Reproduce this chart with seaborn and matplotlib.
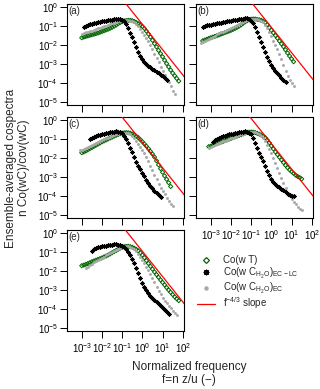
import matplotlib
matplotlib.use("Agg")
import matplotlib.pyplot as plt
import seaborn as sns
import numpy as np
from matplotlib.lines import Line2D
from matplotlib.ticker import LogFormatterSciNotation, NullLocator

sns.set_style("ticks")
plt.rcParams['font.family'] = ['Liberation Sans', 'DejaVu Sans']
plt.rcParams['mathtext.fontset'] = 'custom'
plt.rcParams['mathtext.rm'] = 'Liberation Sans'
plt.rcParams['mathtext.it'] = 'Liberation Sans:italic'
plt.rcParams['mathtext.bf'] = 'Liberation Sans:bold'
plt.rcParams['mathtext.default'] = 'regular'
plt.rcParams['axes.edgecolor'] = 'black'

# ---------------------------------------------------------
# data (log10 of normalized frequency / cospectrum)
# ---------------------------------------------------------
log_f = [-3.5, -3.4, -3.3, -3.2, -3.1, -3.0, -2.9, -2.8, -2.7, -2.6,
         -2.5, -2.4, -2.3, -2.2, -2.1, -2.0, -1.9, -1.8, -1.7, -1.6,
         -1.5, -1.4, -1.3, -1.2, -1.1, -1.0, -0.9, -0.8, -0.7, -0.6,
         -0.5, -0.4, -0.3, -0.2, -0.1, 0.0, 0.1, 0.2, 0.3, 0.4,
         0.5, 0.6, 0.7, 0.8, 0.9, 1.0, 1.1, 1.2, 1.3, 1.4,
         1.5, 1.6, 1.7, 1.8, 1.9]

# (a)
a_T_from, a_EC_from, a_LC_from = -3.0, -3.0, -2.9
a_T = [-1.62, -1.58, -1.55, -1.52, -1.49, -1.46, -1.43, -1.40, -1.37, -1.33,
       -1.29, -1.25, -1.21, -1.17, -1.12, -1.07, -1.01, -0.95, -0.88, -0.82,
       -0.77, -0.73, -0.71, -0.70, -0.70, -0.72, -0.76, -0.82, -0.88, -0.95,
       -1.02, -1.13, -1.27, -1.42, -1.58, -1.75, -1.93, -2.10, -2.28, -2.45,
       -2.62, -2.80, -2.98, -3.15, -3.32, -3.48, -3.62, -3.76, -3.90]
a_EC = [-1.40, -1.36, -1.33, -1.30, -1.27, -1.24, -1.20, -1.17, -1.13, -1.10,
        -1.06, -1.02, -0.98, -0.94, -0.90, -0.86, -0.82, -0.78, -0.74, -0.71,
        -0.69, -0.68, -0.68, -0.69, -0.71, -0.75, -0.81, -0.90, -1.02, -1.15,
        -1.30, -1.45, -1.62, -1.80, -2.00, -2.22, -2.45, -2.68, -2.92, -3.15,
        -3.38, -3.58, -3.78, -3.97, -4.18, -4.42, -4.60]
a_LC = [-1.05, -0.98, -0.93, -0.90, -0.88, -0.85, -0.82, -0.80, -0.78, -0.76,
        -0.74, -0.72, -0.70, -0.68, -0.66, -0.64, -0.62, -0.61, -0.62, -0.66,
        -0.75, -0.90, -1.10, -1.35, -1.60, -1.85, -2.10, -2.35, -2.58, -2.76,
        -2.90, -3.00, -3.08, -3.16, -3.24, -3.32, -3.40, -3.48, -3.56, -3.64,
        -3.72, -3.82]

# (b)
b_T_from, b_EC_from, b_LC_from = -3.4, -3.5, -3.4
b_T = [-1.78, -1.74, -1.70, -1.66, -1.62, -1.58, -1.55, -1.51, -1.47, -1.43,
       -1.39, -1.35, -1.31, -1.27, -1.23, -1.18, -1.13, -1.07, -1.01, -0.94,
       -0.86, -0.78, -0.72, -0.67, -0.64, -0.63, -0.63, -0.65, -0.67, -0.70,
       -0.74, -0.82, -0.92, -1.08, -1.22, -1.36, -1.50, -1.64, -1.79, -1.94,
       -2.09, -2.25, -2.42, -2.58, -2.73, -2.88]
b_EC = [-1.88, -1.84, -1.79, -1.74, -1.68, -1.62, -1.56, -1.50, -1.44, -1.39,
        -1.34, -1.29, -1.24, -1.19, -1.14, -1.09, -1.04, -0.99, -0.94, -0.89,
        -0.84, -0.79, -0.74, -0.69, -0.65, -0.62, -0.61, -0.61, -0.63, -0.66,
        -0.71, -0.80, -0.93, -1.10, -1.32, -1.55, -1.78, -2.00, -2.22, -2.48,
        -2.75, -3.05, -3.35, -3.62, -3.85, -4.02, -4.15]
b_LC = [-1.05, -1.00, -0.97, -0.94, -0.92, -0.90, -0.88, -0.86, -0.84, -0.82,
        -0.80, -0.78, -0.76, -0.74, -0.72, -0.70, -0.68, -0.66, -0.64, -0.62,
        -0.61, -0.60, -0.60, -0.63, -0.72, -0.84, -1.05, -1.32, -1.58, -1.85,
        -2.12, -2.38, -2.62, -2.84, -3.04, -3.22, -3.36, -3.48, -3.60, -3.72,
        -3.84, -3.93]

# (c)
c_T_from, c_EC_from, c_LC_from = -3.0, -3.1, -2.6
c_T = [-1.72, -1.68, -1.63, -1.57, -1.51, -1.45, -1.39, -1.33, -1.27, -1.21,
       -1.15, -1.10, -1.05, -1.00, -0.95, -0.90, -0.85, -0.80, -0.76, -0.72,
       -0.69, -0.67, -0.66, -0.67, -0.69, -0.73, -0.78, -0.85, -0.93, -1.03,
       -1.14, -1.26, -1.38, -1.51, -1.65, -1.79, -1.95, -2.15, -2.36, -2.56,
       -2.75, -2.94, -3.12, -3.30, -3.50]
c_EC = [-1.58, -1.56, -1.52, -1.47, -1.42, -1.37, -1.32, -1.27, -1.22, -1.17,
        -1.12, -1.07, -1.02, -0.97, -0.92, -0.88, -0.84, -0.80, -0.76, -0.72,
        -0.69, -0.67, -0.66, -0.67, -0.70, -0.75, -0.83, -0.94, -1.08, -1.24,
        -1.40, -1.56, -1.74, -1.94, -2.16, -2.40, -2.64, -2.88, -3.12, -3.35,
        -3.56, -3.74, -3.92, -4.10, -4.28, -4.42, -4.55]
c_LC = [-0.98, -0.93, -0.88, -0.84, -0.80, -0.77, -0.74, -0.71, -0.68, -0.66,
        -0.64, -0.62, -0.61, -0.60, -0.61, -0.64, -0.70, -0.82, -1.00, -1.22,
        -1.45, -1.70, -1.95, -2.20, -2.42, -2.58, -2.78, -2.96, -3.14, -3.30,
        -3.46, -3.60, -3.74, -3.86, -3.96, -4.04]

# (d)
d_T_from, d_EC_from, d_LC_from = -3.1, -3.1, -2.9
d_T = [-1.40, -1.38, -1.33, -1.29, -1.25, -1.21, -1.17, -1.13, -1.09, -1.05,
       -1.01, -0.97, -0.93, -0.89, -0.85, -0.81, -0.77, -0.73, -0.69, -0.66,
       -0.64, -0.63, -0.64, -0.66, -0.70, -0.74, -0.79, -0.85, -0.93, -1.05,
       -1.20, -1.36, -1.52, -1.68, -1.82, -1.96, -2.10, -2.24, -2.38, -2.51,
       -2.62, -2.72, -2.81, -2.90, -2.97, -3.03, -3.10]
d_EC = [-1.46, -1.43, -1.38, -1.33, -1.28, -1.23, -1.18, -1.13, -1.08, -1.04,
        -1.00, -0.96, -0.92, -0.88, -0.84, -0.80, -0.76, -0.72, -0.68, -0.65,
        -0.63, -0.62, -0.63, -0.65, -0.69, -0.75, -0.84, -0.96, -1.10, -1.30,
        -1.52, -1.76, -2.00, -2.25, -2.52, -2.78, -3.05, -3.32, -3.58, -3.82,
        -4.00, -4.15, -4.30, -4.44, -4.56, -4.66, -4.72]
d_LC = [-1.15, -1.05, -0.98, -0.93, -0.89, -0.85, -0.82, -0.79, -0.76, -0.73,
        -0.71, -0.69, -0.67, -0.65, -0.63, -0.61, -0.60, -0.61, -0.66, -0.76,
        -0.95, -1.22, -1.48, -1.72, -1.95, -2.18, -2.42, -2.68, -2.92, -3.10,
        -3.24, -3.36, -3.46, -3.55, -3.63, -3.71, -3.79, -3.87, -3.93, -3.98,
        -4.02]

# (e)
e_T_from, e_EC_from, e_LC_from = -3.0, -2.8, -2.5
e_T = [-1.72, -1.69, -1.65, -1.61, -1.56, -1.51, -1.47, -1.43, -1.39, -1.35,
       -1.31, -1.26, -1.21, -1.16, -1.10, -1.04, -0.98, -0.92, -0.86, -0.80,
       -0.75, -0.72, -0.70, -0.70, -0.72, -0.75, -0.80, -0.86, -0.94, -1.04,
       -1.16, -1.30, -1.45, -1.60, -1.75, -1.90, -2.05, -2.19, -2.33, -2.47,
       -2.60, -2.73, -2.87, -3.00, -3.12, -3.24, -3.36, -3.46, -3.56]
e_EC = [-1.86, -1.78, -1.70, -1.62, -1.55, -1.48, -1.42, -1.36, -1.30, -1.24,
        -1.18, -1.12, -1.06, -1.00, -0.94, -0.88, -0.82, -0.77, -0.73, -0.70,
        -0.69, -0.70, -0.73, -0.78, -0.86, -0.96, -1.09, -1.24, -1.40, -1.58,
        -1.77, -1.96, -2.16, -2.38, -2.60, -2.82, -3.03, -3.22, -3.40, -3.56,
        -3.70, -3.83, -3.96, -4.10, -4.22, -4.33]
e_LC = [-0.95, -0.85, -0.80, -0.76, -0.73, -0.70, -0.68, -0.66, -0.64, -0.62,
        -0.61, -0.60, -0.60, -0.61, -0.63, -0.67, -0.74, -0.85, -1.00, -1.18,
        -1.38, -1.60, -1.85, -2.10, -2.38, -2.62, -2.84, -3.02, -3.18, -3.30,
        -3.42, -3.53, -3.63, -3.73, -3.83, -3.93, -4.04, -4.14, -4.24]

# f^-4/3 reference line: log10 level at f = 1 for each panel
slope_level = {'a': -0.91, 'b': -1.07, 'c': -1.18, 'd': -1.25, 'e': -0.96}
slope_f = [1e-2, 1e3]

x_ticks = [1e-3, 1e-2, 1e-1, 1e0, 1e1, 1e2]
y_ticks = [1e0, 1e-1, 1e-2, 1e-3, 1e-4, 1e-5]

GREEN = '#006400'
GREY = '#A9A9A9'


def _xy(start, vals):
    i0 = log_f.index(start)
    f = 10 ** np.array(log_f[i0:i0 + len(vals)])
    return f, 10 ** np.array(vals)


def panel(ax, tag, T, EC, LC, xlab, ylab):
    ax.set_xscale('log'); ax.set_yscale('log')
    f, y = _xy(*T)
    sns.scatterplot(x=f, y=y, ax=ax, marker='D', s=4.5, facecolor='none',
                    edgecolor=GREEN, linewidth=0.7, zorder=3)
    f, y = _xy(*EC)
    sns.scatterplot(x=f, y=y, ax=ax, marker='o', s=4.5, color=GREY,
                    edgecolor=GREY, linewidth=0, zorder=4)
    f, y = _xy(*LC)
    sns.scatterplot(x=f, y=y, ax=ax, marker=(8, 2, 0), s=8, color='black',
                    linewidth=0.5, zorder=5)
    sf = np.array(slope_f)
    sns.lineplot(x=sf, y=10 ** slope_level[tag] * sf ** (-4 / 3), ax=ax,
                 color='red', linewidth=0.9, zorder=6)
    ax.set_xlim(10 ** -3.73, 10 ** 2.06)
    ax.set_ylim(10 ** -5.16, 10 ** 0.16)
    ax.set_xticks(x_ticks); ax.set_yticks(y_ticks)
    ax.xaxis.set_minor_locator(NullLocator())
    ax.yaxis.set_minor_locator(NullLocator())
    ax.xaxis.set_major_formatter(LogFormatterSciNotation())
    ax.yaxis.set_major_formatter(LogFormatterSciNotation())
    ax.tick_params(axis='both', direction='out', length=5, width=0.7,
                   labelsize=7, colors='black')
    ax.tick_params(axis='x', pad=2, labelbottom=xlab)
    ax.tick_params(axis='y', pad=1.5, labelleft=ylab)
    for s in ax.spines.values():
        s.set_linewidth(0.8); s.set_color('black')
    ax.set_xlabel(''); ax.set_ylabel('')
    ax.text(0.015, 0.985, f'({tag})', transform=ax.transAxes, ha='left',
            va='top', fontsize=7)


fig = plt.figure(figsize=(3.2, 3.89), dpi=100)
W, H = 320, 389
pos = {'a': (67, 105), 'b': (196, 105), 'c': (67, 218), 'd': (196, 218), 'e': (67, 331)}
series = {
    'a': ((a_T_from, a_T), (a_EC_from, a_EC), (a_LC_from, a_LC), False, True),
    'b': ((b_T_from, b_T), (b_EC_from, b_EC), (b_LC_from, b_LC), False, False),
    'c': ((c_T_from, c_T), (c_EC_from, c_EC), (c_LC_from, c_LC), False, True),
    'd': ((d_T_from, d_T), (d_EC_from, d_EC), (d_LC_from, d_LC), True, False),
    'e': ((e_T_from, e_T), (e_EC_from, e_EC), (e_LC_from, e_LC), True, True),
}
for tag, (x0, y1) in pos.items():
    ax = fig.add_axes([x0 / W, 1 - y1 / H, 117 / W, 101 / H])
    T, EC, LC, xl, yl = series[tag]
    panel(ax, tag, T, EC, LC, xl, yl)

fig.text(0.055, 0.568, "Ensemble-averaged cospectra\nn Co(wC)/cov(wC)",
         rotation=90, ha='center', va='center', fontsize=8.5, linespacing=1.2)
fig.text(0.59, 0.041, "Normalized frequency\nf=n z/u (\u2212)",
         ha='center', va='center', fontsize=8.5, linespacing=1.1)

handles = [
    Line2D([], [], linestyle='', marker='D', markersize=3, markerfacecolor='none',
           markeredgecolor=GREEN, markeredgewidth=0.9),
    Line2D([], [], linestyle='', marker=(8, 2, 0), markersize=4, color='black',
           markeredgewidth=0.9),
    Line2D([], [], linestyle='', marker='o', markersize=2.2, color=GREY),
    Line2D([], [], color='red', linewidth=0.9),
]
labels = ["Co(w T)",
          r"Co(w C$_{H_2O}$)$_{EC-LC}$",
          r"Co(w C$_{H_2O}$)$_{EC}$",
          r"f$^{-4/3}$ slope"]
# one legend row per entry, so the sub/superscripts do not stretch the spacing
row_y = [260, 273, 288.5, 303.5]
for h, lab, yc in zip(handles, labels, row_y):
    fig.legend([h], [lab], loc='center left', bbox_to_anchor=(197 / W, 1 - yc / H),
               frameon=False, fontsize=7, handlelength=1.85, handletextpad=0.8,
               borderpad=0, borderaxespad=0)

fig.savefig('out.png', dpi=100)
